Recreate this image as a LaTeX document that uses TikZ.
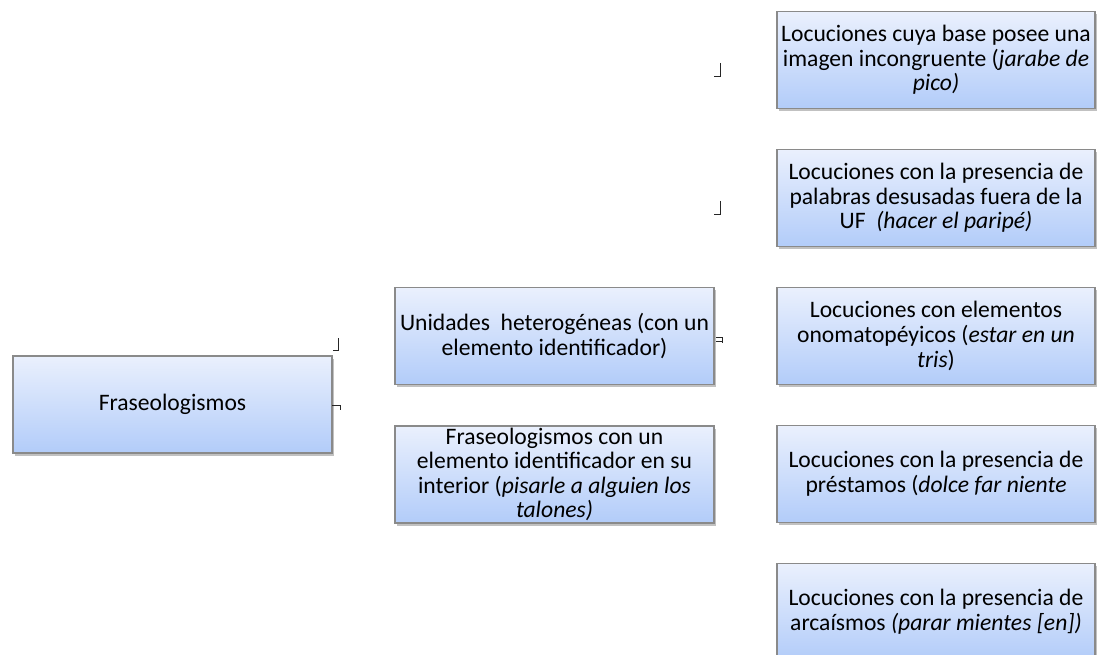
\documentclass[tikz,border=0pt]{standalone}
\usepackage{fontspec}
\setmainfont{Carlito}
\usetikzlibrary{shadows}
\definecolor{boxtop}{HTML}{EAF0FD}
\definecolor{boxbot}{HTML}{B2CCF9}
\definecolor{boxline}{HTML}{8A8A8A}
\begin{document}
\begin{tikzpicture}[x=1pt,y=-1pt,
  catbox/.style={rectangle, draw=boxline, line width=1.4pt,
    top color=boxtop, bottom color=boxbot,
    minimum width=319pt, minimum height=97pt, inner sep=0pt,
    align=center,
    font=\fontsize{23.6}{24.6}\selectfont,
    drop shadow={shadow xshift=2pt, shadow yshift=-2.5pt, opacity=0.35, fill=black!70}},
  tick/.style={draw=black!85, line width=0.9pt}]
\useasboundingbox (0,0) rectangle (1097,655);

% root
\node[catbox] (root) at (172.5,404.5) {Fraseologismos};

% second level
\node[catbox] (het) at (554.5,336) {Unidades\ \ heterogéneas (con un\\elemento identificador)};
\node[catbox] (int) at (554.5,474.5) {Fraseologismos con un\\elemento identificador en su\\interior (\textit{pisarle a alguien los}\\\textit{talones)}};

% third level
\node[catbox, minimum width=318pt] (img) at (936,60) {Locuciones cuya base posee una\\imagen incongruente (\textit{jarabe de}\\\textit{pico)}};
\node[catbox, minimum width=318pt] (des) at (936,198) {Locuciones con la presencia de\\palabras desusadas fuera de la\\UF\ \ \textit{(hacer el paripé)}};
\node[catbox, minimum width=318pt] (ono) at (936,336) {Locuciones con elementos\\onomatopéyicos (\textit{estar en un}\\\textit{tris})};
\node[catbox, minimum width=318pt] (pre) at (936,474) {Locuciones con la presencia de\\préstamos (\textit{dolce far niente}};
\node[catbox, minimum width=318pt] (arc) at (936,612) {Locuciones con la presencia de\\arcaísmos \textit{(parar mientes [en])}};

% small connector stubs
\draw[tick] (720,63) -- (720,76) -- (714,76);
\draw[tick] (720,201) -- (720,214) -- (714,214);
\draw[tick] (338,338) -- (338,350) -- (333,350);
\draw[tick] (332,405) -- (340,405) -- (340,410);
\draw[tick] (716,337) -- (722,337) -- (722,343);
\draw[tick] (716,341) -- (722,341);
\end{tikzpicture}
\end{document}
